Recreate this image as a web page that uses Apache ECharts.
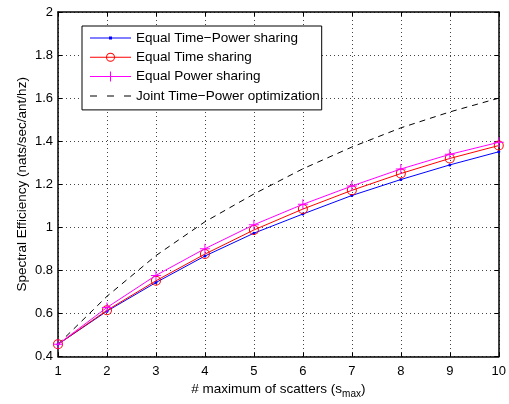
<!DOCTYPE html>
<html>
<head>
<meta charset="utf-8">
<script src="https://cdn.jsdelivr.net/npm/echarts@6/dist/echarts.min.js"></script>
<style>html,body{margin:0;padding:0;background:#fff;}#c{width:509px;height:404px;}</style>
</head>
<body>
<div id="c"></div>
<script>
const xValues = [1, 2, 3, 4, 5, 6, 7, 8, 9, 10];
const equalTimePower = [0.457, 0.611, 0.744, 0.867, 0.973, 1.062, 1.148, 1.222, 1.290, 1.351];
const equalTime = [0.457, 0.615, 0.752, 0.876, 0.988, 1.085, 1.172, 1.250, 1.320, 1.380];
const equalPower = [0.457, 0.628, 0.777, 0.901, 1.012, 1.107, 1.192, 1.271, 1.339, 1.395];
const jointOpt = [0.457, 0.680, 0.869, 1.026, 1.155, 1.272, 1.373, 1.462, 1.536, 1.600];
const seriesNames = ['Equal Time\u2212Power sharing', 'Equal Time sharing', 'Equal Power sharing', 'Joint Time\u2212Power optimization'];

const FONT = 'Liberation Sans, Arial, Helvetica, sans-serif';
const plus = 'path://M0,4.5L10,4.5L10,5.5L0,5.5Z M4.5,0L5.5,0L5.5,10L4.5,10Z';
const ring = 'path://M0,5A5,5 0 1 1 10,5A5,5 0 1 1 0,5Z M1,5A4,4 0 1 0 9,5A4,4 0 1 0 1,5Z';
const corners = 'M0,0L0.01,0L0,0.01Z M41,12L40.99,12L41,11.99Z ';
const fullLine = 'M0,5.5L41,5.5L41,6.5L0,6.5Z ';
const legendIcons = [
  'path://' + corners + fullLine + 'M19,4.5L22,4.5L22,7.5L19,7.5Z',
  'path://' + corners + fullLine + 'M16,6A4.5,4.5 0 1 1 25,6A4.5,4.5 0 1 1 16,6Z M17,6A3.5,3.5 0 1 0 24,6A3.5,3.5 0 1 0 17,6Z',
  'path://' + corners + fullLine + 'M20,1L21,1L21,11L20,11Z',
  'path://' + corners + 'M0,5.5L7,5.5L7,6.5L0,6.5Z M17,5.5L24,5.5L24,6.5L17,6.5Z M34,5.5L41,5.5L41,6.5L34,6.5Z'
];
const pairs = a => a.map((v, i) => [xValues[i], v]);

const chart = echarts.init(document.getElementById('c'), null, {renderer: 'canvas'});
const gridLine = {show: true, lineStyle: {color: '#444', width: 1, type: [1, 3]}};
const boxLine = {show: true, lineStyle: {color: '#000', width: 1.5}};
chart.setOption({
  animation: false,
  backgroundColor: '#fff',
  grid: {left: 58, right: 10, top: 12, bottom: 45},
  legend: {
    orient: 'vertical', left: 82, top: 26,
    padding: [5, 2, 7, 8], itemGap: 5.3, itemWidth: 41, itemHeight: 12,
    borderColor: '#000', borderWidth: 1, backgroundColor: '#fff',
    textStyle: {fontFamily: FONT, fontSize: 13.5, color: '#000'},
    data: seriesNames.map((n, i) => ({name: n, icon: legendIcons[i]}))
  },
  xAxis: [{
    type: 'value', min: 1, max: 10, interval: 1,
    axisLine: boxLine,
    axisTick: {show: true, inside: true, length: 4, lineStyle: {color: '#000'}},
    axisLabel: {fontFamily: FONT, fontSize: 13, color: '#000', margin: 8},
    splitLine: gridLine,
    name: '{a|# maximum of scatters (s}{b|max}{a|)}',
    nameLocation: 'middle', nameGap: 23,
    nameTextStyle: {rich: {a: {fontFamily: FONT, fontSize: 13.5, color: '#000'}, b: {fontFamily: FONT, fontSize: 10, color: '#000', padding: [9, 0, 0, 0]}}}
  }, {
    type: 'value', min: 1, max: 10, interval: 1, position: 'top',
    axisLine: boxLine,
    axisTick: {show: true, inside: true, length: 4, lineStyle: {color: '#000'}},
    axisLabel: {show: false}, splitLine: {show: false}
  }],
  yAxis: [{
    type: 'value', min: 0.4, max: 2, interval: 0.2,
    axisLine: boxLine,
    axisTick: {show: true, inside: true, length: 4, lineStyle: {color: '#000'}},
    axisLabel: {fontFamily: FONT, fontSize: 13, color: '#000', margin: 5, formatter: v => String(+v.toFixed(1))},
    splitLine: gridLine,
    name: 'Spectral Efficiency (nats/sec/ant/hz)',
    nameLocation: 'middle', nameGap: 29, nameRotate: 90, nameMoveOverlap: false,
    nameTextStyle: {fontFamily: FONT, fontSize: 13.5, color: '#000'}
  }, {
    type: 'value', min: 0.4, max: 2, interval: 0.2, position: 'right',
    axisLine: boxLine,
    axisTick: {show: true, inside: true, length: 4, lineStyle: {color: '#000'}},
    axisLabel: {show: false}, splitLine: {show: false}
  }],
  series: [
    {name: seriesNames[0], type: 'line', data: pairs(equalTimePower), symbol: 'circle', symbolSize: 3,
      lineStyle: {color: '#0000ff', width: 1}, itemStyle: {color: '#0000ff'}, z: 3},
    {name: seriesNames[1], type: 'line', data: pairs(equalTime), symbol: ring, symbolSize: 10,
      lineStyle: {color: '#ff0000', width: 1}, itemStyle: {color: '#ff0000'}, z: 4},
    {name: seriesNames[2], type: 'line', data: pairs(equalPower), symbol: plus, symbolSize: 10,
      lineStyle: {color: '#ff00ff', width: 1}, itemStyle: {color: '#ff00ff'}, z: 5},
    {name: seriesNames[3], type: 'line', data: pairs(jointOpt), symbol: 'none',
      lineStyle: {color: '#000', width: 1, type: [6, 5]}, itemStyle: {color: '#000'}, z: 2}
  ]
});
</script>
</body>
</html>
